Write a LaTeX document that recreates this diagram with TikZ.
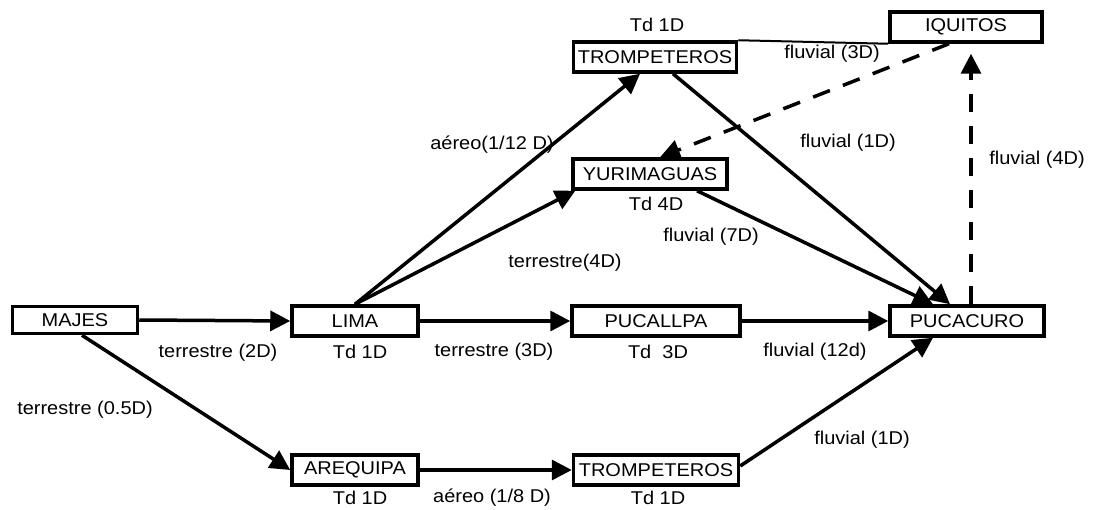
\documentclass[tikz,border=0pt]{standalone}
\usepackage{fontspec}
\setmainfont{Liberation Sans}[FakeStretch=1.08]
\usetikzlibrary{arrows.meta}
\begin{document}
\begin{tikzpicture}[x=1pt,y=-1pt,
  place/.style={draw, line width=3.5pt, minimum height=30pt, inner sep=0pt,
    font=\fontsize{18.5}{18.5}\selectfont},
  lbl/.style={font=\fontsize{18.5}{18.5}\selectfont, inner sep=0pt},
  link/.style={line width=3.5pt, -{Triangle[length=20pt,width=20pt]}},
  flow/.style={link, dash pattern=on 18pt off 14pt},
]
\useasboundingbox (0,0) rectangle (1098,510);

% places
\node[place, minimum width=125pt, minimum height=27pt] (majes) at (75,320) {MAJES};
\node[place, minimum width=126pt] (lima) at (355,321) {LIMA};
\node[place, minimum width=168pt] (pucallpa) at (656,321) {PUCALLPA};
\node[place, minimum width=154pt] (pucacuro) at (967,321) {PUCACURO};
\node[place, minimum width=126pt] (arequipa) at (355,470) {AREQUIPA};
\node[place, minimum width=165pt] (tromplow) at (656,470) {TROMPETEROS};
\node[place, minimum width=154pt] (yuri) at (650,174) {YURIMAGUAS};
\node[place, minimum width=163pt] (tromptop) at (655,57) {TROMPETEROS};
\node[place, minimum width=152pt] (iquitos) at (966,27) {IQUITOS};

% stay times
\node[lbl] (tdlima) at (360,352) {Td 1D};
\node[lbl] (tdpucallpa) at (658,352) {Td\ \ 3D};
\node[lbl] (tdarequipa) at (360,498) {Td 1D};
\node[lbl] (tdtromplow) at (658,498) {Td 1D};
\node[lbl] (tdyuri) at (656,204) {Td 4D};
\node[lbl] (tdtromptop) at (657,25) {Td 1D};

% links
\draw[line width=2pt] (tromptop.north east) -- (iquitos.south west);
\draw[link] (majes.east) -- (lima.west);
\draw[link] ([xshift=7pt]majes.south) -- (arequipa.west);
\draw[link] (lima.east) -- (pucallpa.west);
\draw[link] (pucallpa.east) -- (pucacuro.west);
\draw[link] (arequipa.east) -- (tromplow.west);
\draw[link] ([yshift=4pt]tromplow.east) -- ([xshift=-34pt]pucacuro.south);
\draw[link] (lima.north) -- ([xshift=-15pt]tromptop.south);
\draw[link] (lima.north) -- ([xshift=4pt]yuri.south west);
\draw[link] ([xshift=18pt]tromptop.south) -- ([xshift=-17pt]pucacuro.north);
\draw[link] ([xshift=47pt]yuri.south) -- ([xshift=-34pt]pucacuro.north);
\draw[flow] ([xshift=-17pt]iquitos.south) -- ([xshift=10pt]yuri.north);
\draw[flow] ([xshift=4pt]pucacuro.north) -- ([xshift=5pt,yshift=-10pt]iquitos.south);

% link labels
\node[lbl] (l1) at (218,353) {terrestre (2D)};
\node[lbl] (l2) at (85,410) {terrestre (0.5D)};
\node[lbl] (l3) at (494,352) {terrestre (3D)};
\node[lbl] (l4) at (815,352) {fluvial (12d)};
\node[lbl] (l5) at (492,498) {aéreo (1/8 D)};
\node[lbl] (l6) at (862,440) {fluvial (1D)};
\node[lbl] (l7) at (492,145) {aéreo(1/12 D)};
\node[lbl] (l8) at (565,263) {terrestre(4D)};
\node[lbl] (l9) at (848,143) {fluvial (1D)};
\node[lbl] (l10) at (711,237) {fluvial (7D)};
\node[lbl] (l11) at (832,54) {fluvial (3D)};
\node[lbl] (l12) at (1037,160) {fluvial (4D)};
\end{tikzpicture}
\end{document}
